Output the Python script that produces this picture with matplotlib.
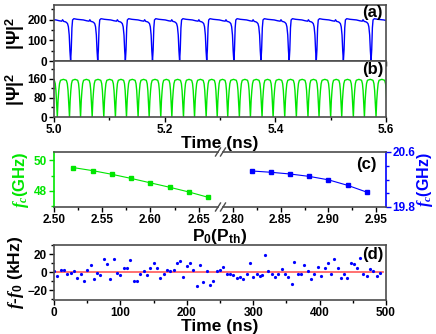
import numpy as np
import matplotlib
matplotlib.use('Agg')
import matplotlib.pyplot as plt
from matplotlib.ticker import MultipleLocator, FixedLocator, FormatStrFormatter
from matplotlib.lines import Line2D

plt.rcParams['font.family'] = ['Liberation Sans', 'DejaVu Sans']
plt.rcParams['font.weight'] = 'bold'
plt.rcParams['axes.labelweight'] = 'bold'
plt.rcParams['mathtext.fontset'] = 'custom'
plt.rcParams['mathtext.rm'] = 'Liberation Sans'
plt.rcParams['mathtext.it'] = 'Liberation Serif:italic'
plt.rcParams['mathtext.bf'] = 'Liberation Sans:bold'

GREEN = '#00e600'
BLUE = '#0000ff'
SPINE = '0.3'

# (a) blue trace: times of the intensity dips (ns) and one period's shape
dips_a = [4.980, 5.030, 5.079, 5.129, 5.178, 5.227, 5.276, 5.325, 5.374,
          5.425, 5.474, 5.523, 5.573, 5.622]
shape_a_frac = [0.0, 0.024, 0.049, 0.073, 0.12, 0.24, 0.47, 0.59, 0.68,
                0.71, 0.75, 0.81, 0.85, 0.89, 0.92, 0.95, 0.975]
shape_a_val = [0, 55, 160, 198, 204, 201, 198, 194, 192,
               199, 191, 189, 186, 180, 165, 125, 50]

# (b) green trace
dips_b = [4.985, 5.006, 5.028, 5.048, 5.069, 5.090, 5.111, 5.131, 5.152, 5.172,
          5.193, 5.213, 5.234, 5.254, 5.275, 5.295, 5.314, 5.335, 5.355,
          5.376, 5.396, 5.417, 5.438, 5.459, 5.479, 5.500, 5.520, 5.541,
          5.561, 5.582, 5.603]
shape_b_frac = [0.0, 0.03, 0.06, 0.12, 0.18, 0.26, 0.5, 0.74, 0.82, 0.88, 0.94, 0.97]
shape_b_val = [0, 35, 69, 111, 140, 154, 158, 154, 140, 111, 54, 25]

# (c) frequencies vs pump
p_left = [2.52, 2.54, 2.56, 2.58, 2.60, 2.62, 2.64, 2.66]
f_left = [49.53, 49.33, 49.09, 48.82, 48.53, 48.24, 47.93, 47.58]
p_right = [2.82, 2.84, 2.86, 2.88, 2.90, 2.92, 2.94]
f_right = [20.324, 20.305, 20.28, 20.245, 20.195, 20.115, 20.016]

# (d) frequency deviation vs time
t_d = [0, 5, 10, 15, 20, 25, 30, 35, 40, 45, 50, 55, 60, 65, 70, 75, 80, 85, 90, 95,
       100, 105, 110, 115, 120, 125, 130, 135, 140, 145, 150, 155, 160, 165, 170, 175,
       180, 185, 190, 195, 200, 205, 210, 215, 220, 225, 230, 235, 240, 245, 250, 255,
       260, 265, 270, 275, 280, 285, 290, 295, 300, 305, 310, 313, 318, 323, 328, 333,
       338, 343, 348, 353, 358, 362, 367, 372, 377, 382, 387, 392, 397, 402, 408, 413,
       417, 422, 427, 432, 437, 442, 447, 452, 457, 461, 466, 471, 476, 481, 486, 491]
df_d = [0.7, -4, 2.5, 2.5, -2.6, -0.7, 1, -6.7, -1.8, -10, 2.6, 7.8, -7.8, -0.7, -3.7,
        14, 8.5, -7.8, 15, -0.7, -3.7, 4.8, 4, 13, -10, -10, -1.8, 0.7, -3.7, 4.8, 9.6,
        4.8, -6.7, -1.8, 2.6, 1.5, 2.6, 10.4, 12.6, -6, 6.7, 10.4, 2.2, -15, 7.8, -11,
        1.5, -14, -10, 1.5, 2.6, 5.5, -2.6, -2.6, -3.7, -6.7, -6, -7.8, -2.6, 9.6, -6,
        -2.6, -4.8, -3.7, 19, 0.7, -2.6, -6, -1.8, 3.3, -1.8, -6, -13.3, 10.7, -2.6,
        -2.6, 7.8, 1.5, -7.8, -1.8, 5.5, -4.8, 4, 9.6, -2.6, 14, 4.8, -6.7, -2.6, -6.7,
        10.4, 8.5, 4.8, 16, -1.8, -4.8, 3.3, 1.5, -4.8, -0.7]


def build_trace(dips, frac, vals):
    t, y = [], []
    for d0, d1 in zip(dips[:-1], dips[1:]):
        t.extend(d0 + np.array(frac) * (d1 - d0))
        y.extend(vals)
    t.append(dips[-1])
    y.append(vals[0])
    return np.array(t), np.array(y)


def style(ax):
    for s in ax.spines.values():
        s.set_linewidth(1.2)
        s.set_color(SPINE)
    ax.tick_params(which='both', direction='out', width=1, labelsize=8.5, pad=1.5)
    ax.tick_params(which='major', length=3.5)
    ax.tick_params(which='minor', length=2)


W, H = 436, 334
fig = plt.figure(figsize=(W / 100, H / 100), dpi=100)


def box(x0, y0, x1, y1):
    return [x0 / W, 1 - y1 / H, (x1 - x0) / W, (y1 - y0) / H]


ax_a = fig.add_axes(box(54, 5, 386, 61))
ax_b = fig.add_axes(box(54, 61, 386, 117))
ax_cl = fig.add_axes(box(54, 152, 218, 207))
ax_cr = fig.add_axes(box(223, 152, 386, 207))
ax_d = fig.add_axes(box(54, 245, 386, 300))

# (a)
ta, ya = build_trace(dips_a, shape_a_frac, shape_a_val)
ax_a.plot(ta, ya, color=BLUE, lw=1.0)
ax_a.set_xlim(5.0, 5.6)
ax_a.set_ylim(0, 270)
ax_a.yaxis.set_major_locator(FixedLocator([0, 100, 200]))
ax_a.yaxis.set_minor_locator(MultipleLocator(50))
ax_a.xaxis.set_major_locator(MultipleLocator(0.2))
ax_a.xaxis.set_minor_locator(MultipleLocator(0.1))
ax_a.tick_params(axis='x', labelbottom=False)
style(ax_a)
ax_a.set_ylabel(r'$|\Psi|^2$', fontsize=13, fontweight='normal', labelpad=0)
ax_a.text(0.96, 0.86, '(a)', transform=ax_a.transAxes, ha='center', va='center',
          fontsize=12)

# (b)
tb, yb = build_trace(dips_b, shape_b_frac, shape_b_val)
ax_b.plot(tb, yb, color=GREEN, lw=1.0)
ax_b.set_xlim(5.0, 5.6)
ax_b.set_ylim(0, 235)
ax_b.yaxis.set_major_locator(FixedLocator([0, 80, 160]))
ax_b.yaxis.set_minor_locator(MultipleLocator(40))
ax_b.xaxis.set_major_locator(MultipleLocator(0.2))
ax_b.xaxis.set_minor_locator(MultipleLocator(0.1))
ax_b.xaxis.set_major_formatter(FormatStrFormatter('%.1f'))
style(ax_b)
ax_b.set_ylabel(r'$|\Psi|^2$', fontsize=13, fontweight='normal', labelpad=0)
ax_b.set_xlabel('Time (ns)', fontsize=12.5, labelpad=0)
ax_b.text(0.96, 0.84, '(b)', transform=ax_b.transAxes, ha='center', va='center',
          fontsize=12)

# (c) broken axis
ax_cl.plot(p_left, f_left, color=GREEN, lw=0.8, marker='s', ms=3.5)
ax_cl.set_xlim(2.50, 2.67)
ax_cl.set_ylim(46.95, 50.55)
ax_cl.xaxis.set_major_locator(MultipleLocator(0.05))
ax_cl.xaxis.set_minor_locator(MultipleLocator(0.025))
ax_cl.xaxis.set_major_formatter(FormatStrFormatter('%.2f'))
ax_cl.yaxis.set_major_locator(FixedLocator([48, 50]))
ax_cl.yaxis.set_minor_locator(FixedLocator([47, 49]))
style(ax_cl)
ax_cl.spines['right'].set_visible(False)
ax_cl.spines['left'].set_color(GREEN)
ax_cl.tick_params(axis='y', which='both', colors=GREEN)
ax_cl.set_ylabel(r'$f_c$(GHz)', color=GREEN, fontsize=12, labelpad=2)

ax_cr.plot(p_right, f_right, color=BLUE, lw=0.8, marker='s', ms=3.5)
ax_cr.set_xlim(2.79, 2.96)
ax_cr.set_ylim(19.8, 20.6)
ax_cr.xaxis.set_major_locator(MultipleLocator(0.05))
ax_cr.xaxis.set_minor_locator(MultipleLocator(0.025))
ax_cr.xaxis.set_major_formatter(FormatStrFormatter('%.2f'))
ax_cr.yaxis.tick_right()
ax_cr.yaxis.set_label_position('right')
ax_cr.yaxis.set_major_locator(FixedLocator([19.8, 20.6]))
ax_cr.yaxis.set_minor_locator(FixedLocator([20.0, 20.2, 20.4]))
style(ax_cr)
ax_cr.spines['left'].set_visible(False)
ax_cr.spines['right'].set_color(BLUE)
ax_cr.tick_params(axis='y', which='both', colors=BLUE, pad=1)
ax_cr.set_ylabel(r'$f_c$(GHz)', color=BLUE, fontsize=11.5, labelpad=0)
ax_cr.text(0.88, 0.78, '(c)', transform=ax_cr.transAxes, ha='center', va='center',
           fontsize=12)

# break marks
for xb in (218, 223):
    for yb_ in (152, 207):
        fig.add_artist(Line2D([(xb - 2.5) / W, (xb + 2.5) / W],
                              [1 - (yb_ + 4) / H, 1 - (yb_ - 4) / H],
                              color=SPINE, lw=1.0))
fig.text(220 / W, 1 - 236 / H, r'P$_\mathbf{0}$(P$_\mathbf{th}$)', ha='center',
         va='center', fontsize=12.5)

# (d)
ax_d.plot(t_d, df_d, 'o', color=BLUE, ms=2.3, mec='none')
ax_d.axhline(0, xmax=0.99, color='#ff6666', lw=1.3, zorder=0)
ax_d.set_xlim(0, 500)
ax_d.set_ylim(-31, 30)
ax_d.xaxis.set_major_locator(MultipleLocator(100))
ax_d.xaxis.set_minor_locator(MultipleLocator(50))
ax_d.yaxis.set_major_locator(FixedLocator([-20, 0, 20]))
ax_d.yaxis.set_minor_locator(FixedLocator([-30, -10, 10, 30]))
style(ax_d)
ax_d.set_xlabel('Time (ns)', fontsize=12.5, labelpad=0)
ax_d.set_ylabel(r'$f$-$f_0$ (kHz)', fontsize=12.5, labelpad=1)
ax_d.text(0.96, 0.82, '(d)', transform=ax_d.transAxes, ha='center', va='center',
          fontsize=12)

fig.savefig('out.png', dpi=100)
